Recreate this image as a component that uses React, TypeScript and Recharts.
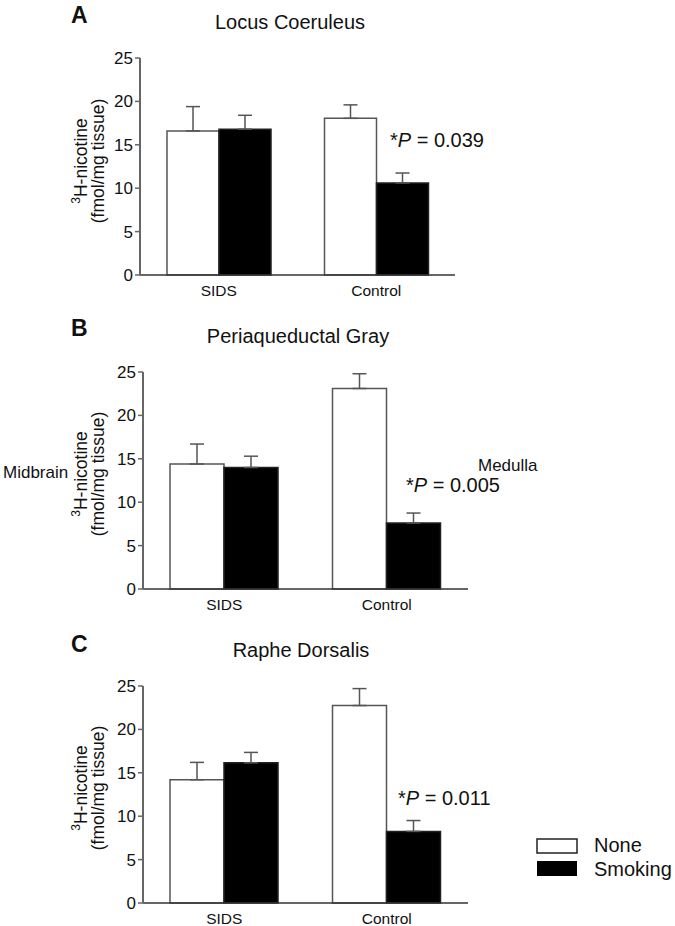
import React from 'react';
import { BarChart, Bar, XAxis, YAxis, ErrorBar } from 'recharts';

// categories and axis
const groups = ['SIDS', 'Control'];
const yTicks = [0, 5, 10, 15, 20, 25];

// A: Locus Coeruleus
const lcNone = [16.6, 18.05];
const lcNoneErr = [2.8, 1.55];
const lcSmoking = [16.8, 10.6];
const lcSmokingErr = [1.6, 1.15];

// B: Periaqueductal Gray
const pagNone = [14.4, 23.1];
const pagNoneErr = [2.3, 1.7];
const pagSmoking = [14.0, 7.6];
const pagSmokingErr = [1.3, 1.15];

// C: Raphe Dorsalis
const rdNone = [14.2, 22.75];
const rdNoneErr = [2.0, 1.95];
const rdSmoking = [16.15, 8.25];
const rdSmokingErr = [1.2, 1.25];

const FONT = '"Liberation Sans", Arial, sans-serif';

const buildRows = (none: number[], noneErr: number[], smk: number[], smkErr: number[]) =>
  groups.map((g, i) => ({
    group: g,
    none: none[i],
    noneErr: [0, noneErr[i]],
    smoking: smk[i],
    smokingErr: [0, smkErr[i]],
  }));

const panels = [
  {
    key: 'A',
    top: 0,
    height: 310,
    margin: { top: 58, right: 220, bottom: 15, left: 100 },
    data: buildRows(lcNone, lcNoneErr, lcSmoking, lcSmokingErr),
  },
  {
    key: 'B',
    top: 310,
    height: 310,
    margin: { top: 62, right: 207, bottom: 11, left: 103 },
    data: buildRows(pagNone, pagNoneErr, pagSmoking, pagSmokingErr),
  },
  {
    key: 'C',
    top: 620,
    height: 306,
    margin: { top: 66, right: 207, bottom: 3, left: 103 },
    data: buildRows(rdNone, rdNoneErr, rdSmoking, rdSmokingErr),
  },
];

const Panel = ({ top, height, margin, data }: any) => (
  <div style={{ position: 'absolute', left: 0, top }}>
    <BarChart
      width={675}
      height={height}
      data={data}
      margin={margin}
      barCategoryGap={27}
      barGap={0}
    >
      <XAxis
        dataKey="group"
        axisLine={{ stroke: '#333', strokeWidth: 1.5 }}
        tickLine={false}
        tickSize={0}
        tickMargin={10}
        height={20}
        tick={{ fill: '#111', fontSize: 15.5, fontFamily: FONT }}
      />
      <YAxis
        type="number"
        domain={[0, 25]}
        ticks={yTicks}
        interval={0}
        width={40}
        axisLine={{ stroke: '#666', strokeWidth: 2 }}
        tickLine={{ stroke: '#666', strokeWidth: 1.5 }}
        tickSize={5}
        tickMargin={2}
        tick={{ fill: '#111', fontSize: 17, fontFamily: FONT }}
      />
      <Bar dataKey="none" fill="#fff" stroke="#555" strokeWidth={1.5} isAnimationActive={false}>
        <ErrorBar dataKey="noneErr" direction="y" width={7} stroke="#555" strokeWidth={1.5} />
      </Bar>
      <Bar dataKey="smoking" fill="#000" stroke="#222" strokeWidth={1.5} isAnimationActive={false}>
        <ErrorBar dataKey="smokingErr" direction="y" width={7} stroke="#555" strokeWidth={1.5} />
      </Bar>
    </BarChart>
  </div>
);

const YLabel = ({ cy }: { cy: number }) => (
  <g>
    <text transform={`translate(87,${cy}) rotate(-90)`} textAnchor="middle" fontSize={17.5}>
      <tspan fontSize={12} dy={-7}>3</tspan>
      <tspan dy={7}>H-nicotine</tspan>
    </text>
    <text transform={`translate(104,${cy}) rotate(-90)`} textAnchor="middle" fontSize={17.5}>
      (fmol/mg tissue)
    </text>
  </g>
);

const PValue = ({ x, y, value }: { x: number; y: number; value: string }) => (
  <text x={x} y={y} fontSize={20}>
    *<tspan fontStyle="italic">P</tspan> = {value}
  </text>
);

export default function App() {
  return (
    <div
      style={{
        position: 'absolute',
        left: 0,
        top: 0,
        width: 675,
        height: 926,
        background: '#fff',
        fontFamily: FONT,
      }}
    >
      {panels.map((p) => (
        <Panel key={p.key} {...p} />
      ))}
      <svg
        width={675}
        height={926}
        style={{ position: 'absolute', left: 0, top: 0, pointerEvents: 'none' }}
        fontFamily={FONT}
        fill="#111"
      >
        <text x={71} y={23} fontSize={23} fontWeight="bold">A</text>
        <text x={71} y={336} fontSize={23} fontWeight="bold">B</text>
        <text x={71} y={652} fontSize={23} fontWeight="bold">C</text>

        <text x={290} y={29} fontSize={20} textAnchor="middle">Locus Coeruleus</text>
        <text x={298} y={343} fontSize={20} textAnchor="middle">Periaqueductal Gray</text>
        <text x={301} y={657} fontSize={20} textAnchor="middle">Raphe Dorsalis</text>

        <YLabel cy={161} />
        <YLabel cy={474} />
        <YLabel cy={788} />

        <text x={3} y={478} fontSize={17}>Midbrain</text>
        <text x={478} y={471} fontSize={17}>Medulla</text>

        <PValue x={390} y={147} value="0.039" />
        <PValue x={406} y={492} value="0.005" />
        <PValue x={398} y={805} value="0.011" />

        <rect x={537} y={839} width={40} height={14} fill="#fff" stroke="#222" strokeWidth={1.5} />
        <rect x={537} y={861} width={40} height={15} fill="#000" />
        <text x={594} y={852} fontSize={20}>None</text>
        <text x={594} y={876} fontSize={20}>Smoking</text>
      </svg>
    </div>
  );
}
